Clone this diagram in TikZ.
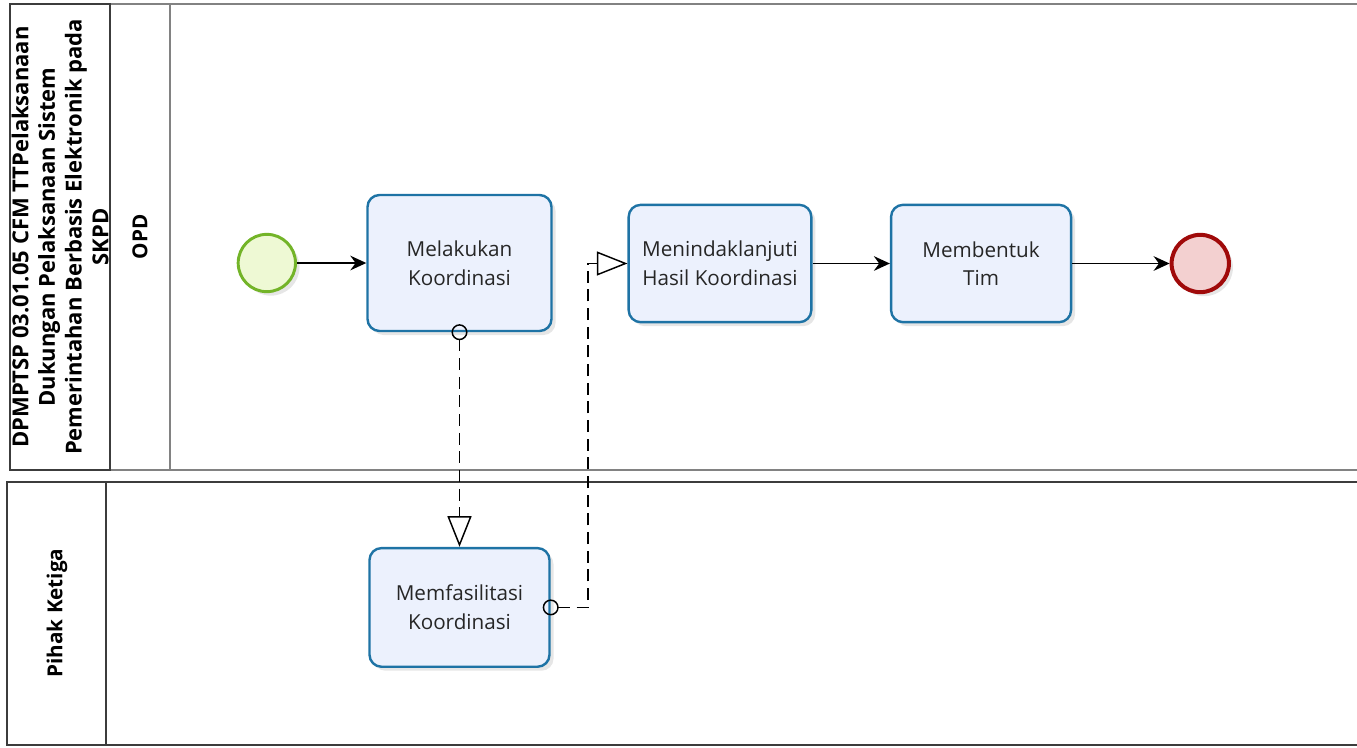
\documentclass[tikz,border=0pt]{standalone}
\usepackage{fontspec}
\setmainfont{Open Sans}
\usepackage{tikz}
\usetikzlibrary{arrows.meta,positioning,shadows}
\definecolor{mytask}{RGB}{30,115,165}
\definecolor{mytaskfill}{RGB}{236,241,253}
\definecolor{mystart}{RGB}{115,180,40}
\definecolor{mystartfill}{RGB}{238,249,212}
\definecolor{myend}{RGB}{160,10,10}
\definecolor{myendfill}{RGB}{243,208,208}
\definecolor{mylane}{RGB}{60,60,60}
\definecolor{mypool}{RGB}{130,130,130}

\begin{document}
\begin{tikzpicture}[x=0.75pt,y=-0.75pt,
  task/.style={draw=mytask, fill=mytaskfill, line width=1.8pt, rounded corners=9pt,
        align=center, text=black!85, font=\fontsize{15.5}{21.5}\selectfont,
        drop shadow={shadow xshift=3pt, shadow yshift=-3pt, opacity=0.2}},
  lanetext/.style={rotate=90, align=center, font=\fontsize{15.5}{20}\selectfont\bfseries},
  seqflow/.style={line width=1.3pt, arrows={-Stealth[length=12pt,width=11pt,inset=4pt]}},
  msgflow/.style={line width=1.3pt, dash pattern=on 9pt off 5pt,
        arrows={Circle[open,length=12pt,width=12pt,line width=1.1pt]-Triangle[open,length=23pt,width=18pt,line width=1.1pt]},
        shorten <=-6pt}]
  \clip (0,0) rectangle (1357,747);
  % pools and lanes
  \draw[mypool, line width=1.3pt] (10,4) rectangle (1370,470);
  \draw[mypool, line width=1pt] (170,4) -- (170,470);
  \draw[mylane, line width=1.3pt] (10,4) rectangle (110,470);
  \draw[mylane, line width=1.5pt] (7,482) rectangle (1370,745);
  \draw[mylane, line width=1.5pt] (106,482) -- (106,745);
  \node[lanetext, font=\fontsize{16.5}{20}\selectfont\bfseries](pool) at (60,237){DPMPTSP 03.01.05 CFM TTPelaksanaan\\Dukungan Pelaksanaan Sistem\\Pemerintahan Berbasis Elektronik pada\\SKPD};
  \node[lanetext](opd) at (140,237){OPD};
  \node[lanetext](pihak) at (57,613){Pihak Ketiga};

  % events and tasks
  \node[task, minimum width=138pt, minimum height=102pt](lakukan) at (459.5,263){Melakukan\\Koordinasi};
  \node[circle, draw=mystart, fill=mystartfill, line width=2.2pt, minimum size=43pt,
        drop shadow={shadow xshift=3pt, shadow yshift=-3pt, opacity=0.2},
        left=52pt of lakukan](start){};
  \node[task, minimum width=137pt, minimum height=88pt](tindak) at (720,263.5){Menindaklanjuti\\Hasil Koordinasi};
  \node[task, minimum width=135pt, minimum height=88pt, right=58pt of tindak](bentuk){Membentuk\\Tim};
  \node[circle, draw=myend, fill=myendfill, line width=3pt, minimum size=43pt,
        drop shadow={shadow xshift=3pt, shadow yshift=-3pt, opacity=0.2},
        right=73pt of bentuk](end){};
  \node[task, minimum width=135pt, minimum height=89pt, below=161pt of lakukan](fasilitasi){Memfasilitasi\\Koordinasi};
  \coordinate (mbend) at (588,0);

  % flows
  \draw[seqflow] (start) -- (lakukan);
  \draw[seqflow] (tindak) -- (bentuk);
  \draw[seqflow] (bentuk) -- (end);
  \draw[msgflow] (lakukan.south) -- (fasilitasi.north);
  \draw[msgflow] (fasilitasi.east) -- (mbend |- fasilitasi.east) |- (tindak.west);
\end{tikzpicture}
\end{document}
